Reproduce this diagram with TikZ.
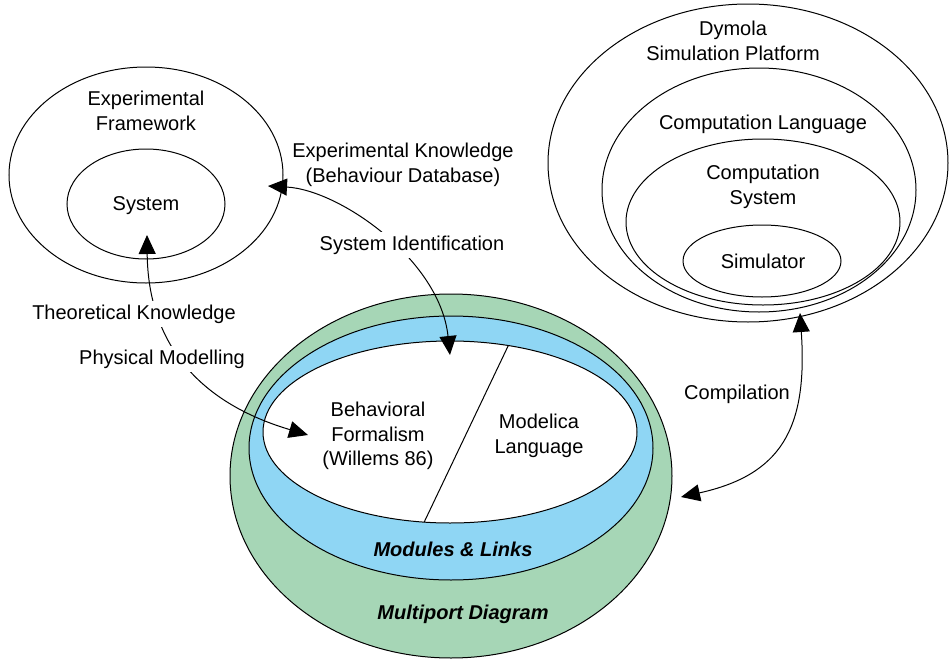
\documentclass[tikz,border=0pt]{standalone}
\usepackage{fontspec}
\setmainfont{Liberation Sans}
\usetikzlibrary{shapes.geometric,arrows.meta}
\definecolor{portgreen}{HTML}{A6D6B6}
\definecolor{linkblue}{HTML}{8FD6F4}
\tikzset{
  oval/.style={draw,ellipse,inner sep=0pt,outer sep=0pt},
  lbl/.style={align=center,inner sep=2pt,font=\fontsize{10}{12.2}\selectfont},
  onlbl/.style={lbl,fill=white},
  emph/.style={lbl,font=\fontsize{10}{12.2}\selectfont\bfseries\itshape},
  arr/.style={{Triangle[length=9.5pt,width=8.5pt]}-{Triangle[length=9.5pt,width=8.5pt]}},
}
\begin{document}
\begin{tikzpicture}[x=0.5pt,y=-0.5pt,line width=0.5pt]
\useasboundingbox (0,0) rectangle (949,659);
% experimental side
\node[oval,minimum width=137pt,minimum height=108pt] (frame) at (146,175) {};
\node[oval,minimum width=79pt,minimum height=55pt] (system) at (146,204) {};
\node[lbl] (framelbl) at (146,111) {Experimental\\Framework};
\node[lbl] (syslbl) at (146,206) {System};
% dymola side
\node[oval,minimum width=200pt,minimum height=159pt] (dymola) at (748,163) {};
\node[oval,minimum width=157pt,minimum height=122pt] (complang) at (759,190) {};
\node[oval,minimum width=137pt,minimum height=83pt] (compsys) at (763,222) {};
\node[oval,minimum width=79pt,minimum height=36pt] (simulator) at (762,261) {};
\node[lbl] (dymolalbl) at (733,41) {Dymola\\Simulation Platform};
\node[lbl] (complanglbl) at (763,124) {Computation Language};
\node[lbl] (compsyslbl) at (763,187) {Computation\\System};
\node[lbl] (simlbl) at (763,261) {Simulator};
% multiport diagram
\node[oval,fill=portgreen,minimum width=221pt,minimum height=182pt] (mport) at (451,476) {};
\node[oval,fill=linkblue,minimum width=202pt,minimum height=132pt] (links) at (451,448) {};
\node[oval,fill=white,minimum width=187pt,minimum height=91pt] (inner) at (450,432) {};
\draw (inner.56) -- (inner.-106.5);
\node[lbl] (bflbl) at (378,436) {Behavioral\\Formalism\\(Willems 86)};
\node[lbl] (modelicalbl) at (539,436) {Modelica\\Language};
\node[emph] (linkslbl) at (453,549) {Modules \& Links};
\node[emph] (mportlbl) at (463,614) {Multiport Diagram};
% arrows
\coordinate (fwtip) at (268,186);
\coordinate (sidtip) at (450,355);
\coordinate (systip) at (147,235);
\coordinate (bftip) at (308,435);
\coordinate (dytip) at (800,313);
\coordinate (mptip) at (681,497);
\draw[arr] (fwtip) .. controls (340,190) and (440,260) .. (sidtip);
\draw[arr] (systip) .. controls (148,335) and (190,400) .. (bftip);
\draw[arr] (dytip) .. controls (808,430) and (780,475) .. (mptip);
\node[lbl] (eklbl) at (403,165) {Experimental Knowledge\\(Behaviour Database)};
\node[onlbl] (sidlbl) at (412,245) {System Identification};
\node[onlbl] (tklbl) at (134,314) {Theoretical Knowledge};
\node[onlbl] (pmlbl) at (162,359) {Physical Modelling};
\node[lbl] (complbl) at (737,394) {Compilation};
\end{tikzpicture}
\end{document}
